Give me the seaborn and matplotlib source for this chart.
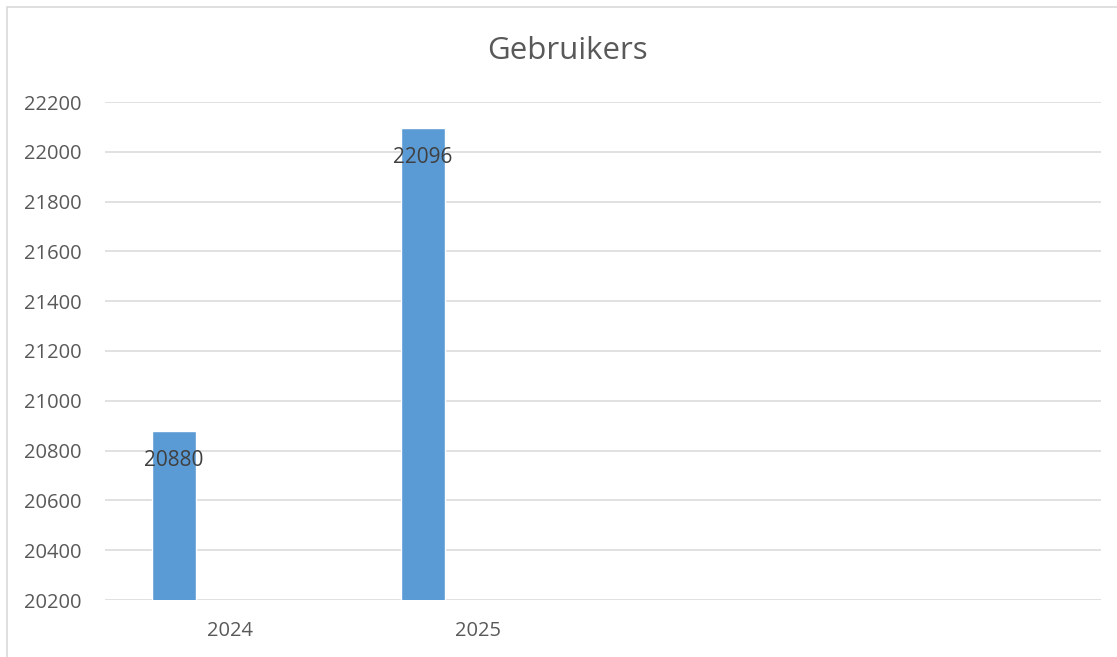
import matplotlib
matplotlib.use("Agg")
import matplotlib.pyplot as plt
import matplotlib.patches as mpatches
import seaborn as sns
import pandas as pd

# data
years = ["2024", "2025"]
gebruikers = [20880, 22096]
y_ticks = list(range(20200, 22201, 200))
n_slots = 4  # chart area has room for 4 categories

sns.set_theme(style="white")
plt.rcParams['font.family'] = ['Open Sans', 'DejaVu Sans']

df = pd.DataFrame({"jaar": years, "gebruikers": gebruikers})

fig = plt.figure(figsize=(11.17, 6.57), dpi=100)
ax = fig.add_axes([105 / 1117, 1 - 600 / 657, 996 / 1117, 498 / 657])

sns.barplot(data=df, x="jaar", y="gebruikers", order=years, color="#5b9bd5",
            width=0.177, saturation=1, ax=ax)

# bars sit left of the category centre, like the excel cluster
for p in ax.patches:
    p.set_x(p.get_x() - 0.223)

ax.set_xlim(-0.5, n_slots - 0.5)
ax.set_ylim(y_ticks[0], y_ticks[-1])
ax.set_yticks(y_ticks)
ax.set_yticklabels([str(t) for t in y_ticks])
ax.set_xticks(range(len(years)))
ax.set_xticklabels(years)

ax.yaxis.grid(True, color="#d9d9d9", linewidth=1.1)
ax.set_axisbelow(True)
for s in ax.spines.values():
    s.set_visible(False)
ax.tick_params(axis="y", length=0, pad=17, labelsize=14.5, labelcolor="#595959")
ax.tick_params(axis="x", length=0, pad=15, labelsize=14.5, labelcolor="#595959")
ax.set_xlabel("")
ax.set_ylabel("")

ax.bar_label(ax.containers[0], padding=-29, fontsize=15, color="#404040")

fig.text(567 / 1117, 1 - 51 / 657, "Gebruikers", ha="center", va="center",
         fontsize=22.5, color="#595959")

# outer chart border (only left and top are visible in the crop)
fig.patches.append(mpatches.Rectangle((6.5 / 1117, -0.1), 1.2, 1 - 6.5 / 657 + 0.1,
                                      transform=fig.transFigure, fill=False,
                                      edgecolor="#d9d9d9", linewidth=1.2))

fig.savefig("out.png", dpi=100)
